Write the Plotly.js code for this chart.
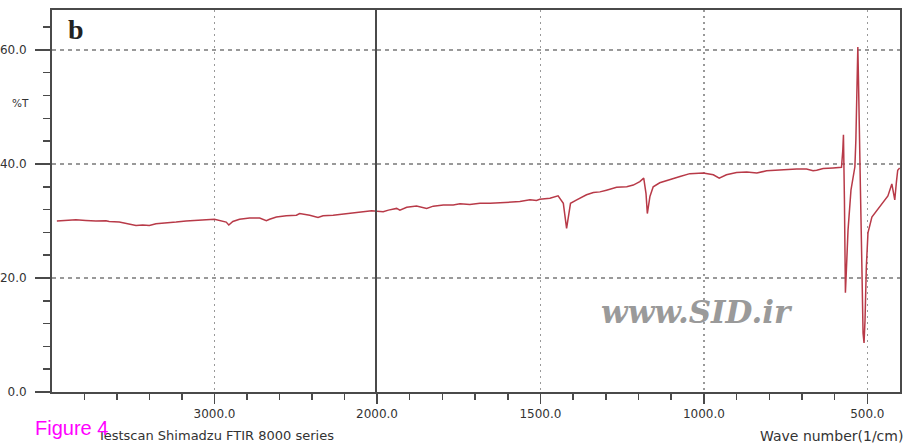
<!DOCTYPE html>
<html>
<head>
<meta charset="utf-8">
<script src="https://cdn.plot.ly/plotly-3.0.1.min.js"></script>
<style>html,body{margin:0;padding:0;background:#fff;}#chart{width:907px;height:447px;}</style>
</head>
<body>
<div id="chart"></div>
<script>
// Wavenumber (1/cm) and transmittance (%T)
const wavenumber = [3970,3915,3853,3792,3730,3668,3648,3586,3524,3483,3442,3401,3360,3298,3236,3175,3113,3051,3000,2969,2928,2912,2887,2846,2784,2722,2681,2661,2619,2558,2496,2476,2414,2363,2332,2270,2209,2147,2085,2033,2000,
1981,1965,1940,1930,1909,1879,1848,1828,1797,1767,1746,1716,1685,1654,1624,1593,1563,1532,1512,1502,1471,1446,1430,1420,1415,1408,1389,1359,1338,1318,1298,1267,1236,1216,1196,1184,1177,1173,1165,1155,1135,1104,1073,1043,1002,971,953,931,900,869,838,808,778,747,716,686,666,655,635,605,579,
575,573,570,567,564,559,550,544,538,535,532,529,527,524,521,517,513,510,507,503,498,486,474,462,449,437,425,419,416,411,407,401];
const transmittance = [30.0,30.05,30.2,30.1,30.0,30.05,29.9,29.8,29.5,29.2,29.3,29.2,29.5,29.6,29.8,30.0,30.05,30.2,30.3,30.05,29.8,29.3,29.9,30.3,30.5,30.5,30.05,30.3,30.7,30.9,31.0,31.3,31.0,30.6,30.9,31.0,31.2,31.3,31.5,31.8,31.7,
31.6,31.9,32.2,31.9,32.4,32.6,32.2,32.6,32.8,32.8,33.0,32.9,33.1,33.1,33.2,33.3,33.4,33.7,33.6,33.8,34.0,34.4,33.1,28.7,30.7,33.1,33.7,34.6,35.0,35.1,35.4,35.9,36.0,36.3,36.9,37.5,34.8,31.3,34.3,36.0,36.7,37.3,37.8,38.3,38.4,38.1,37.5,38.1,38.5,38.6,38.4,38.8,38.9,39.1,39.1,39.1,38.8,38.9,39.2,39.3,39.4,
42.4,45.1,33.7,17.4,21.4,28.4,35.4,37.2,39.5,44.2,53.0,60.5,54.7,42.4,35.4,23.2,10.3,8.6,12.6,21.9,27.9,30.7,31.6,32.5,33.3,34.4,36.5,34.9,33.7,36.8,38.9,39.3];

// Axis ticks
const xLeftTicks = [3000];
const xLeftLabels = ['3000.0'];
const xLeftMinor = [3800,3600,3400,3200,2800,2600,2400,2200];
const xRightTicks = [2000,1500,1000,500];
const xRightLabels = ['2000.0','1500.0','1000.0','500.0'];
const xRightMinor = [1900,1800,1700,1600,1400,1300,1200,1100,900,800,700,600];
const yTicks = [0,20,40,60];
const yLabels = ['0.0','20.0','40.0','60.0'];
const yMinor = [4,8,12,16,24,28,32,36,44,48,52,56,64];

const splitAt = 2000;
const leftX = [], leftY = [], rightX = [], rightY = [];
wavenumber.forEach((w, i) => {
  if (w >= splitAt) { leftX.push(w); leftY.push(transmittance[i]); }
  if (w <= splitAt) { rightX.push(w); rightY.push(transmittance[i]); }
});

const lineStyle = {color: '#b83a48', width: 1.5};
const traces = [
  {x: leftX, y: leftY, xaxis: 'x', yaxis: 'y', type: 'scatter', mode: 'lines', line: lineStyle, hoverinfo: 'skip'},
  {x: rightX, y: rightY, xaxis: 'x2', yaxis: 'y2', type: 'scatter', mode: 'lines', line: lineStyle, hoverinfo: 'skip'}
];

const axisColor = '#4a4a4a';
const tickFont = {family: 'DejaVu Sans', size: 12, color: '#333'};
const split = 325 / 848;
const hDash = '4px,4px';
const vDash = '2px,4px';

const layout = {
  width: 907, height: 447,
  margin: {l: 52, r: 7, t: 10, b: 55},
  paper_bgcolor: '#fff', plot_bgcolor: '#fff',
  showlegend: false,
  xaxis: {
    domain: [0, split], range: [4000, 2000], anchor: 'y',
    tickmode: 'array', tickvals: xLeftTicks, ticktext: xLeftLabels,
    ticks: 'outside', ticklen: 10, tickwidth: 1.5, tickcolor: axisColor,
    minor: {tickmode: 'array', tickvals: xLeftMinor, ticks: 'outside', ticklen: 6, tickwidth: 1.5, tickcolor: axisColor, showgrid: false},
    showline: true, linecolor: axisColor, linewidth: 2, mirror: true,
    showgrid: true, gridcolor: '#999', griddash: vDash, gridwidth: 1.3,
    zeroline: false, tickfont: tickFont
  },
  xaxis2: {
    domain: [split, 1], range: [2000, 400], anchor: 'y2',
    tickmode: 'array', tickvals: xRightTicks, ticktext: xRightLabels,
    ticks: 'outside', ticklen: 10, tickwidth: 1.5, tickcolor: axisColor,
    minor: {tickmode: 'array', tickvals: xRightMinor, ticks: 'outside', ticklen: 6, tickwidth: 1.5, tickcolor: axisColor, showgrid: false},
    showline: true, linecolor: axisColor, linewidth: 2, mirror: true,
    showgrid: true, gridcolor: '#999', griddash: vDash, gridwidth: 1.3,
    zeroline: false, tickfont: tickFont
  },
  yaxis: {
    range: [0, 67], anchor: 'x',
    tickmode: 'array', tickvals: yTicks, ticktext: yLabels,
    ticks: 'outside', ticklen: 15, tickwidth: 1.5, tickcolor: axisColor,
    ticklabelstandoff: 6,
    minor: {tickmode: 'array', tickvals: yMinor, ticks: 'outside', ticklen: 7, tickwidth: 1.5, tickcolor: axisColor, showgrid: false},
    showline: true, linecolor: axisColor, linewidth: 2,
    showgrid: true, gridcolor: '#999', griddash: hDash, gridwidth: 1.3,
    zeroline: false, tickfont: tickFont
  },
  yaxis2: {
    range: [0, 67], anchor: 'x2',
    tickmode: 'array', tickvals: yTicks, showticklabels: false, ticks: '',
    showline: true, linecolor: axisColor, linewidth: 2, mirror: true,
    showgrid: true, gridcolor: '#999', griddash: hDash, gridwidth: 1.3,
    zeroline: false
  },
  annotations: [
    {text: 'b', xref: 'paper', yref: 'paper', x: 0.0283, y: 0.948, xanchor: 'center', yanchor: 'middle', showarrow: false,
     font: {family: 'Liberation Serif', size: 28, color: '#222', weight: 'bold'}},
    {text: '%T', xref: 'paper', yref: 'paper', x: -0.0377, y: 0.757, xanchor: 'center', yanchor: 'middle', showarrow: false,
     font: {family: 'DejaVu Sans', size: 10.5, color: '#333'}},
    {text: 'Testscan Shimadzu FTIR 8000 series', xref: 'paper', yref: 'paper', x: 0.0507, y: -0.1126, xanchor: 'left', yanchor: 'middle', showarrow: false,
     font: {family: 'DejaVu Sans', size: 13, color: '#333'}},
    {text: 'Figure 4', xref: 'paper', yref: 'paper', x: -0.0224, y: -0.0942, xanchor: 'left', yanchor: 'middle', showarrow: false,
     font: {family: 'Liberation Sans', size: 20, color: '#ff00ff'}},
    {text: 'Wave number(1/cm)', xref: 'paper', yref: 'paper', x: 1.006, y: -0.115, xanchor: 'right', yanchor: 'middle', showarrow: false,
     font: {family: 'DejaVu Sans', size: 14, color: '#333'}},
    {text: 'www.SID.ir', xref: 'paper', yref: 'paper', x: 0.7606, y: 0.209, xanchor: 'center', yanchor: 'middle', showarrow: false,
     font: {family: 'DejaVu Serif', size: 31, color: '#9a9a9a', weight: 'bold', style: 'italic'}}
  ]
};

Plotly.newPlot('chart', traces, layout, {staticPlot: true, displayModeBar: false});
</script>
</body>
</html>
